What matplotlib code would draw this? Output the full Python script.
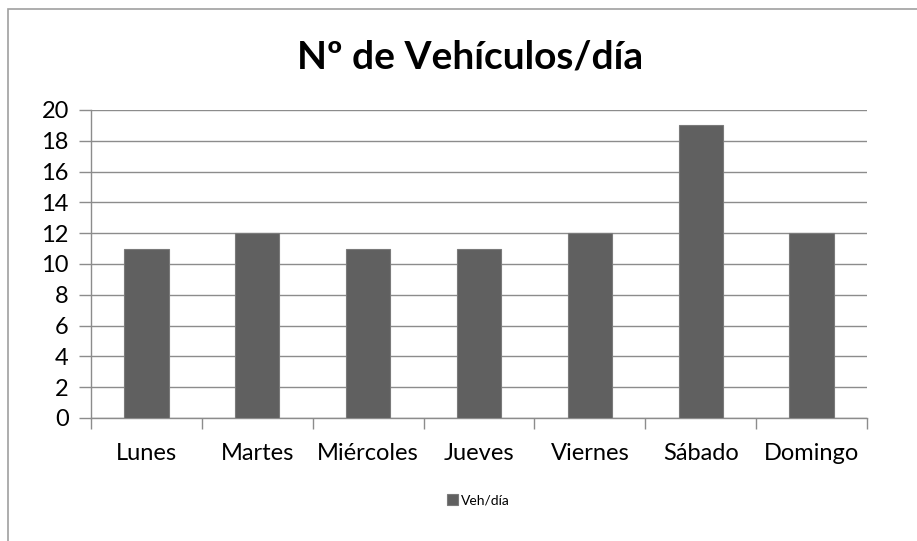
import matplotlib.pyplot as plt
from matplotlib.patches import Rectangle

dias = ["Lunes", "Martes", "Miércoles", "Jueves", "Viernes", "Sábado", "Domingo"]
vehiculos = [11, 12, 11, 11, 12, 19, 12]
yticks = list(range(0, 21, 2))

plt.rcParams['font.family'] = ['Lato', 'DejaVu Sans']

fig = plt.figure(figsize=(9.17, 5.41), dpi=100)
W, H = 917, 541

# chart frame (only left and top visible in the crop)
fig.patches.append(Rectangle((8 / W, -0.1), 1.2, 1 - 9 / H + 0.1, transform=fig.transFigure,
                             fill=False, edgecolor="#a0a0a0", linewidth=1.2))

ax = fig.add_axes([91 / W, 1 - 418 / H, (867 - 91) / W, (418 - 110) / H])
x = range(len(dias))
ax.bar(x, vehiculos, width=0.4, color="#606060", edgecolor="#7a7a7a", linewidth=0.8,
       label="Veh/día", zorder=3)

ax.set_xlim(-0.5, len(dias) - 0.5)
ax.set_ylim(0, 20)
ax.set_yticks(yticks)
ax.grid(axis="y", color="#8c8c8c", linewidth=1, zorder=0)
ax.set_xticks([i - 0.5 for i in range(len(dias) + 1)], minor=False)
ax.set_xticklabels([])
ax.set_xticks(list(x), minor=True)
ax.set_xticklabels(dias, minor=True, fontsize=17)
ax.tick_params(axis="x", which="major", length=8, color="#8c8c8c", width=1)
ax.tick_params(axis="x", which="minor", length=0, pad=18)
ax.tick_params(axis="y", length=9, color="#8c8c8c", width=1, labelsize=17, pad=7)
for s in ["top", "right"]:
    ax.spines[s].set_visible(False)
for s in ["left", "bottom"]:
    ax.spines[s].set_color("#8c8c8c")
    ax.spines[s].set_linewidth(1)

fig.text(470 / W, 1 - 57 / H, "Nº de Vehículos/día", ha="center", va="center",
         fontsize=28, fontweight="bold")

fig.legend(loc="center", bbox_to_anchor=(478 / W, 1 - 500 / H), frameon=False,
           fontsize=10, handlelength=0.8, handleheight=0.8, handletextpad=0.2)

fig.savefig("out.png", dpi=100, facecolor="white")
